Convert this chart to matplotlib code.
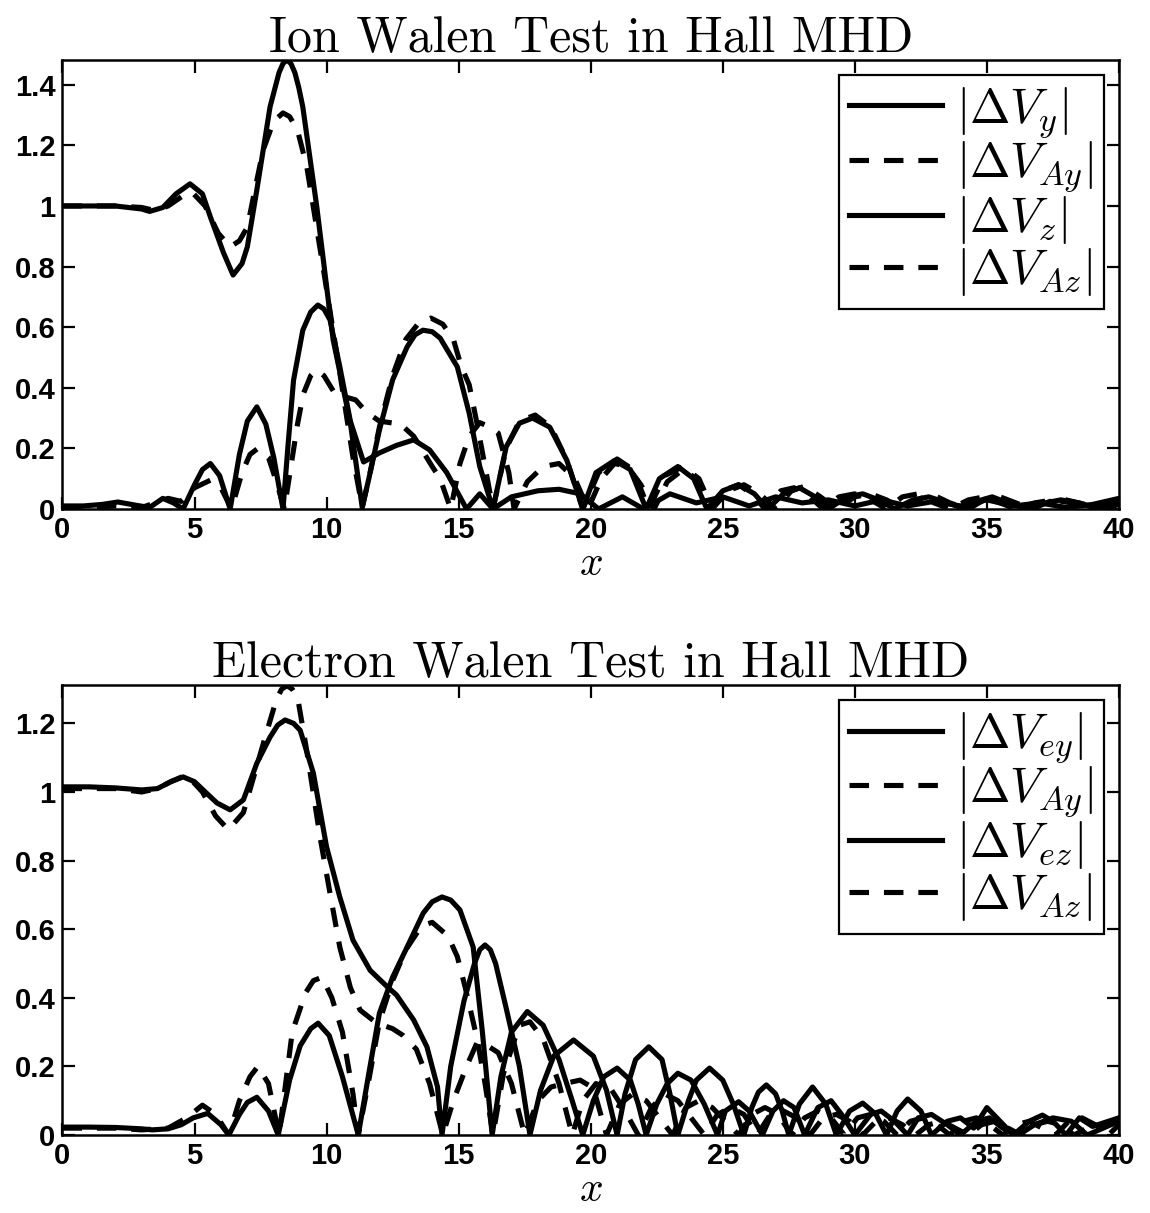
import matplotlib
matplotlib.use("Agg")
import matplotlib.pyplot as plt

plt.rcParams["mathtext.fontset"] = "cm"
plt.rcParams["font.family"] = ["Liberation Sans", "DejaVu Sans"]

# ---------------- Ion Walen test ----------------
ion_vy_x = [0, 1, 2, 3, 3.3, 3.8, 4.3, 4.83, 5.3, 5.6, 6.1, 6.46, 6.8, 7.0, 7.36, 7.86, 8.05, 8.2,
            8.35, 8.5, 8.65, 8.8, 8.95, 9.1, 9.63, 10.25, 10.9, 11.35,
            11.6, 12.0, 12.5, 13.05, 13.35, 13.65, 14.0, 14.3, 14.95, 15.4, 15.8, 16.3,
            16.8, 17.3, 17.8, 18.45, 19.1, 19.7,
            20.2, 20.9, 21.5, 22.1,
            22.6, 23.3, 23.9, 24.4,
            25.0, 25.6, 26.2, 26.7, 27.3, 27.9, 28.5, 29.0, 29.7, 30.3, 30.9, 31.5,
            32.2, 32.8, 33.5, 34.2, 34.8, 35.2, 35.8, 36.5, 37.2, 37.8, 38.5, 39.2, 40.0]
ion_vy_y = [1.0, 1.0, 1.0, 0.99, 0.982, 0.995, 1.04, 1.073, 1.04, 0.964, 0.845, 0.772, 0.81, 0.865,
            1.053, 1.327, 1.39, 1.44, 1.47, 1.482, 1.47, 1.44, 1.39, 1.327, 0.997, 0.558, 0.284,
            0.005,
            0.1, 0.26, 0.426, 0.535, 0.575, 0.59, 0.585, 0.564, 0.469, 0.316, 0.14, 0.0,
            0.205, 0.283, 0.30, 0.27, 0.16, 0.0,
            0.12, 0.16, 0.13, 0.0,
            0.10, 0.14, 0.10, 0.0,
            0.06, 0.08, 0.05, 0.0, 0.05, 0.07, 0.04, 0.0, 0.04, 0.05, 0.03, 0.0,
            0.03, 0.04, 0.02, 0.0, 0.03, 0.04, 0.02, 0.0, 0.02, 0.03, 0.02, 0.0, 0.02]

ion_vay_x = [0, 1, 2, 3, 3.5, 4.0, 4.5, 4.9, 5.4, 5.9, 6.35, 6.7, 7.0, 7.3, 7.6, 8.0, 8.35, 8.6,
             8.9, 9.25, 9.9, 10.5, 11.0, 11.35,
             11.6, 12.0, 12.5, 13.0, 13.5, 13.95, 14.4, 14.8, 15.1, 15.4, 15.7, 16.0, 16.3,
             16.8, 17.3, 17.9, 18.5, 19.1, 19.7,
             20.3, 21.0, 21.6, 22.2,
             22.8, 23.5, 24.1, 24.6,
             25.2, 25.8, 26.4, 27.0, 27.6, 28.1, 28.7, 29.3, 30.0, 30.6, 31.2, 31.8,
             32.5, 33.0, 33.6, 34.3, 35.0, 35.5, 36.1, 36.7, 37.4, 38.0, 38.7, 39.4, 40.0]
ion_vay_y = [1.0, 1.0, 1.0, 0.995, 0.985, 1.0, 1.03, 1.046, 1.0, 0.91, 0.865, 0.885, 0.93, 1.06,
             1.185, 1.28, 1.307, 1.295, 1.25, 1.13, 0.78, 0.45, 0.17, 0.005,
             0.1, 0.27, 0.44, 0.56, 0.615, 0.63, 0.61, 0.56, 0.47, 0.41, 0.28, 0.14, 0.0,
             0.2, 0.29, 0.31, 0.27, 0.16, 0.0,
             0.12, 0.165, 0.13, 0.0,
             0.11, 0.14, 0.10, 0.0,
             0.06, 0.08, 0.05, 0.0, 0.06, 0.075, 0.04, 0.0, 0.04, 0.05, 0.03, 0.0,
             0.035, 0.045, 0.02, 0.0, 0.035, 0.04, 0.02, 0.0, 0.025, 0.03, 0.015, 0.0, 0.015]

ion_vz_x = [0, 0.8, 1.5, 2.1, 2.8, 3.3, 3.8, 4.2, 4.57, 5.0, 5.3, 5.6, 5.95, 6.35, 6.7, 7.0, 7.36,
            7.7, 8.0, 8.35, 8.55, 8.75, 9.1, 9.4, 9.67, 9.9, 10.13, 10.5, 10.9, 11.4, 12.0,
            12.65, 13.3, 13.9, 14.55, 15.3, 15.8, 16.3, 17.0, 18.0, 18.8, 19.6, 20.3,
            21.2, 22.0, 23.0, 24.0, 25.0, 26.0, 27.0, 28.0, 29.0, 30.0, 31.0, 32.0, 33.0, 34.0,
            35.0, 36.0, 37.0, 38.0, 39.0, 40.0]
ion_vz_y = [0.01, 0.01, 0.015, 0.023, 0.012, 0.005, 0.035, 0.02, 0.0, 0.08, 0.13, 0.15, 0.11, 0.0,
            0.18, 0.29, 0.337, 0.28, 0.17, 0.0, 0.22, 0.425, 0.59, 0.65, 0.673, 0.66, 0.624,
            0.47, 0.29, 0.155, 0.185, 0.21, 0.228, 0.195, 0.12, 0.0, 0.05, 0.0, 0.04, 0.06,
            0.065, 0.05, 0.0,
            0.04, 0.0, 0.05, 0.02, 0.04, 0.01, 0.04, 0.02, 0.03, 0.01, 0.03, 0.01, 0.025, 0.01,
            0.03, 0.01, 0.02, 0.005, 0.015, 0.035]

ion_vaz_x = [0, 1, 2, 3, 3.5, 4.0, 4.5, 5.0, 5.6, 6.0, 6.4, 6.8, 7.1, 7.4, 7.8, 8.1, 8.4, 8.9,
             9.12, 9.4, 9.63, 9.9, 10.25, 10.7, 11.1, 11.5, 12.0, 12.8, 13.3, 14.0, 14.3, 14.7,
             15.05, 15.4, 15.8, 16.2, 16.5, 16.9, 17.1,
             17.6, 18.2, 18.8, 19.4, 19.9, 20.4, 20.9, 21.4, 21.9, 22.4, 22.9, 23.5, 24.0, 24.5,
             25.0, 25.6, 26.1, 26.6, 27.2, 27.7, 28.3, 28.8, 29.4, 30.0, 30.6, 31.2, 31.8, 32.4,
             33.0, 33.6, 34.3, 34.9, 35.5, 36.1, 36.8, 37.5, 38.2, 38.9, 39.5, 40.0]
ion_vaz_y = [0.005, 0.005, 0.01, 0.005, 0.02, 0.035, 0.025, 0.07, 0.095, 0.07, 0.0, 0.12, 0.18,
             0.2, 0.17, 0.09, 0.0, 0.28, 0.38, 0.44, 0.46, 0.44, 0.39, 0.37, 0.36, 0.32, 0.29,
             0.28, 0.24, 0.14, 0.10, 0.0,
             0.15, 0.24, 0.285, 0.27, 0.25, 0.12, 0.0,
             0.09, 0.14, 0.15, 0.10, 0.0, 0.10, 0.15, 0.14, 0.08, 0.0, 0.09, 0.13, 0.10, 0.0,
             0.06, 0.08, 0.05, 0.0, 0.06, 0.07, 0.04, 0.0, 0.04, 0.05, 0.03, 0.0, 0.04, 0.05,
             0.02, 0.0, 0.03, 0.04, 0.02, 0.0, 0.02, 0.03, 0.02, 0.0, 0.01, 0.02]

# ---------------- Electron Walen test ----------------
el_vey_x = [0, 1, 2, 3.0, 3.6, 4.1, 4.57, 5.0, 5.45, 5.85, 6.35, 6.85, 7.36, 7.86, 8.15, 8.43,
            8.75, 9.0, 9.5, 10.0, 10.5, 11.0, 11.65, 12.3, 12.65, 13.3, 13.8, 14.2, 14.37,
            14.7, 15.2, 15.6, 15.8, 16.0, 16.2, 16.4, 16.8, 17.3, 17.7,
            18.1, 18.6, 19.35, 20.1, 20.6, 21.0,
            21.3, 21.7, 22.2, 22.7, 23.0, 23.3,
            23.7, 24.0, 24.5, 25.0, 25.4, 25.8,
            26.1, 26.35, 26.65, 27.0, 27.25, 27.5,
            27.9, 28.4, 28.9, 29.3, 29.8, 30.3, 30.8, 31.2, 31.6, 32.0, 32.5, 32.9,
            33.5, 34.0, 34.5, 35.0, 35.5, 36.0, 36.6, 37.1, 37.5, 38.0, 38.5, 39.0, 40.0]
el_vey_y = [1.015, 1.015, 1.012, 1.006, 1.01, 1.03, 1.044, 1.03, 0.997, 0.968, 0.948, 0.977,
            1.084, 1.16, 1.195, 1.21, 1.2, 1.18, 1.055, 0.84, 0.694, 0.568, 0.48, 0.432, 0.408,
            0.335, 0.257, 0.14, 0.0,
            0.2, 0.39, 0.5, 0.54, 0.554, 0.54, 0.5, 0.37, 0.2, 0.0,
            0.13, 0.23, 0.277, 0.23, 0.13, 0.0,
            0.12, 0.22, 0.257, 0.22, 0.12, 0.0,
            0.10, 0.16, 0.195, 0.16, 0.09, 0.0,
            0.08, 0.125, 0.146, 0.12, 0.07, 0.0,
            0.09, 0.14, 0.09, 0.0, 0.07, 0.093, 0.06, 0.0, 0.07, 0.105, 0.07, 0.0,
            0.04, 0.05, 0.02, 0.08, 0.04, 0.0, 0.04, 0.058, 0.04, 0.0, 0.05, 0.025, 0.05]

el_vay_x = [0, 1, 2, 3, 3.6, 4.1, 4.7, 5.3, 5.8, 6.28, 6.85, 7.6, 8.1, 8.3, 8.5, 8.7, 8.9, 9.25,
            9.75, 10.13, 10.5, 10.9, 11.27, 11.9, 12.5, 12.9, 13.4, 13.9, 14.4,
            14.8, 15.3, 15.7, 16.1, 16.5, 17.0, 17.5,
            18.0, 18.5, 19.0, 19.6, 20.1, 20.6,
            21.1, 21.6, 22.1, 22.6, 23.1,
            23.6, 24.1, 24.6, 25.1, 25.6,
            26.1, 26.6, 27.1, 27.6, 28.1, 28.6, 29.1, 29.6, 30.1, 30.6, 31.1, 31.6,
            32.1, 32.6, 33.1, 33.6, 34.1, 34.6, 35.1, 35.6, 36.1, 36.6, 37.1, 37.6,
            38.1, 38.6, 39.1, 39.6, 40.0]
el_vay_y = [1.01, 1.01, 1.01, 1.0, 1.01, 1.03, 1.05, 1.0, 0.93, 0.89, 0.94, 1.14, 1.27, 1.30,
            1.31, 1.30, 1.277, 1.12, 0.87, 0.705, 0.548, 0.43, 0.364, 0.326, 0.31, 0.29, 0.25,
            0.15, 0.0,
            0.1, 0.2, 0.27, 0.26, 0.24, 0.15, 0.0,
            0.1, 0.14, 0.15, 0.16, 0.137, 0.0,
            0.09, 0.12, 0.10, 0.05, 0.0,
            0.08, 0.10, 0.08, 0.04, 0.0,
            0.06, 0.08, 0.06, 0.0, 0.05, 0.07, 0.05, 0.0, 0.05, 0.06, 0.04, 0.0,
            0.04, 0.05, 0.03, 0.0, 0.04, 0.05, 0.03, 0.0, 0.03, 0.04, 0.02, 0.0,
            0.04, 0.05, 0.03, 0.0, 0.03]

el_vez_x = [0, 1, 2, 3, 3.4, 4.0, 4.5, 4.95, 5.5, 6.0, 6.3, 6.7, 7.0, 7.36, 7.8, 8.17, 8.6, 9.0,
            9.4, 9.68, 10.1, 10.6, 11.2,
            11.6, 12.0, 12.5, 13.05, 13.66, 14.0, 14.37, 14.7, 15.05, 15.55, 15.9, 16.27,
            16.6, 17.0, 17.6, 18.2, 18.8, 19.3, 19.7,
            20.1, 20.5, 21.0, 21.5, 21.8, 22.1,
            22.5, 22.9, 23.3, 23.8, 24.3, 24.8,
            25.1, 25.6, 26.0, 26.5,
            26.9, 27.3, 27.7, 28.1, 28.6, 29.1, 29.5, 30.0, 30.6, 31.0, 31.5, 32.0, 32.4,
            32.9, 33.5, 34.0, 34.6, 35.1, 35.6, 36.2, 36.8, 37.5, 38.2, 38.8, 39.4, 40.0]
el_vez_y = [0.023, 0.023, 0.022, 0.018, 0.015, 0.018, 0.03, 0.05, 0.063, 0.03, 0.0, 0.06, 0.095,
            0.11, 0.07, 0.0, 0.16, 0.26, 0.31, 0.326, 0.29, 0.17, 0.0,
            0.18, 0.355, 0.46, 0.548, 0.647, 0.68, 0.694, 0.685, 0.656, 0.548, 0.3, 0.0,
            0.17, 0.3, 0.36, 0.32, 0.22, 0.1, 0.0,
            0.1, 0.17, 0.195, 0.16, 0.09, 0.0,
            0.09, 0.15, 0.18, 0.16, 0.09, 0.0,
            0.07, 0.097, 0.07, 0.0,
            0.07, 0.1, 0.08, 0.0, 0.08, 0.1, 0.06, 0.0, 0.06, 0.07, 0.04, 0.0, 0.05,
            0.06, 0.03, 0.0, 0.04, 0.05, 0.02, 0.0, 0.03, 0.05, 0.04, 0.0, 0.02, 0.04]

el_vaz_x = [0, 1, 2, 3, 4, 4.7, 5.3, 5.8, 6.3, 6.7, 7.1, 7.4, 7.8, 8.2, 8.7, 9.2, 9.5, 9.83,
            10.2, 10.6, 11.0, 11.2,
            11.6, 12.0, 12.5, 13.0, 13.6, 14.0, 14.6, 14.95, 15.25, 15.7, 16.0, 16.3,
            16.7, 17.3, 17.7, 18.2, 18.8, 19.3,
            19.7, 20.2, 20.8, 21.3, 21.8,
            22.3, 22.8, 23.3, 23.8, 24.3,
            24.8, 25.3, 25.8, 26.3, 26.8, 27.3, 27.8, 28.3, 28.8, 29.3, 29.8, 30.3,
            30.8, 31.3, 31.8, 32.3, 32.8, 33.3, 33.8, 34.3, 34.8, 35.3, 35.8, 36.3,
            36.8, 37.3, 37.8, 38.3, 38.8, 39.3, 40.0]
el_vaz_y = [0.02, 0.02, 0.02, 0.015, 0.02, 0.05, 0.087, 0.06, 0.0, 0.1, 0.17, 0.2, 0.15, 0.0,
            0.3, 0.414, 0.45, 0.46, 0.4, 0.3, 0.12, 0.0,
            0.16, 0.33, 0.45, 0.54, 0.61, 0.62, 0.58, 0.52, 0.43, 0.28, 0.15, 0.0,
            0.18, 0.32, 0.33, 0.28, 0.15, 0.0,
            0.1, 0.15, 0.13, 0.07, 0.0,
            0.08, 0.12, 0.10, 0.05, 0.0,
            0.06, 0.08, 0.06, 0.0, 0.06, 0.07, 0.05, 0.0, 0.05, 0.06, 0.04, 0.0,
            0.04, 0.05, 0.03, 0.0, 0.03, 0.04, 0.02, 0.0, 0.03, 0.04, 0.02, 0.0,
            0.03, 0.04, 0.03, 0.0, 0.02, 0.03, 0.04]

x_ticks = [0, 5, 10, 15, 20, 25, 30, 35, 40]
ion_yticks = [0, 0.2, 0.4, 0.6, 0.8, 1.0, 1.2, 1.4]
el_yticks = [0, 0.2, 0.4, 0.6, 0.8, 1.0, 1.2]
ion_labels = [r"$|\Delta V_y|\;$", r"$|\Delta V_{Ay}|\;$", r"$|\Delta V_z|\;$",
              r"$|\Delta V_{Az}|\;$"]
el_labels = [r"$|\Delta V_{ey}|\;$", r"$|\Delta V_{Ay}|\;$", r"$|\Delta V_{ez}|\;$",
             r"$|\Delta V_{Az}|\;$"]

LW = 3.7
DASH = (0, (3.8, 2.9))


def tick_text(v):
    return "%g" % v


def draw_panel(ax, series, labels, title, ymax, yticks):
    styles = ["-", DASH, "-", DASH]
    for (xs, ys), ls, lab in zip(series, styles, labels):
        ax.plot(xs, ys, color="black", lw=LW, linestyle=ls, label=lab,
                solid_joinstyle="round", dash_capstyle="butt")
    ax.set_xlim(0, 40)
    ax.set_ylim(0, ymax)
    ax.set_xticks(x_ticks)
    ax.set_xticklabels([tick_text(v) for v in x_ticks])
    ax.set_yticks(yticks)
    ax.set_yticklabels([tick_text(v) for v in yticks])
    ax.tick_params(direction="in", length=9, width=1.6, top=True, right=True,
                   labelsize=21, pad=5)
    for lab in ax.get_xticklabels() + ax.get_yticklabels():
        lab.set_fontweight("bold")
    for s in ax.spines.values():
        s.set_linewidth(1.8)
    ax.set_title(title, fontfamily="cmr10", fontsize=36, pad=6)
    ax.set_xlabel(r"$x$", fontsize=30, labelpad=0)
    leg = ax.legend(loc="upper right", fontsize=35, frameon=True, fancybox=False,
                    edgecolor="black", framealpha=1.0, handlelength=1.9,
                    handletextpad=0.3, labelspacing=0.0, borderpad=0.22,
                    borderaxespad=0.3)
    leg.get_frame().set_linewidth(1.6)
    for h in leg.get_lines():
        h.set_linewidth(LW)


fig = plt.figure(figsize=(11.5, 12.13), dpi=100)
ax1 = fig.add_axes([0.0543, 0.5804, 0.9187, 0.3702])
ax2 = fig.add_axes([0.0543, 0.0643, 0.9187, 0.3710])

draw_panel(ax1, [(ion_vy_x, ion_vy_y), (ion_vay_x, ion_vay_y),
                 (ion_vz_x, ion_vz_y), (ion_vaz_x, ion_vaz_y)],
           ion_labels, "Ion Walen Test in Hall MHD", 1.482, ion_yticks)
draw_panel(ax2, [(el_vey_x, el_vey_y), (el_vay_x, el_vay_y),
                 (el_vez_x, el_vez_y), (el_vaz_x, el_vaz_y)],
           el_labels, "Electron Walen Test in Hall MHD", 1.312, el_yticks)

fig.savefig("out.png", dpi=100)
